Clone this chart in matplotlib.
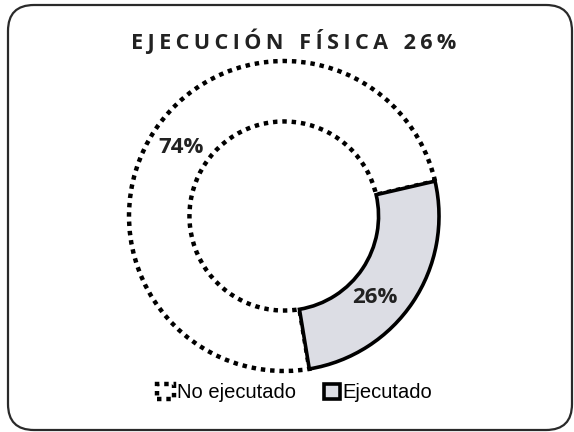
import matplotlib
matplotlib.use("Agg")
import numpy as np
import matplotlib.pyplot as plt
from matplotlib.patches import FancyBboxPatch

# data
labels = ["No ejecutado", "Ejecutado"]
values = [74, 26]
pct_labels = ["74%", "26%"]
title = "EJECUCIÓN FÍSICA 26%"

fig = plt.figure(figsize=(5.74, 4.32), dpi=100)
ax = fig.add_axes([0, 0, 1, 1])
ax.set_xlim(0, 574)
ax.set_ylim(0, 432)
ax.set_aspect("equal")
ax.axis("off")

# rounded frame
frame = FancyBboxPatch((8, 2), 564, 425, boxstyle="round,pad=0,rounding_size=26",
                       facecolor="white", edgecolor="#2a2a2a", linewidth=1.6, zorder=0)
ax.add_patch(frame)

cx, cy, r = 284, 216, 155
wedges, texts, autotexts = ax.pie(
    values, center=(cx, cy), radius=r, startangle=13,
    colors=["white", "#dcdde4"],
    wedgeprops=dict(width=r * 0.39),
    autopct=lambda p: "", pctdistance=0.8, frame=True)

# dotted edge on the open part, solid edge on the executed part
wedges[0].set_edgecolor("black")
wedges[0].set_linestyle((0, (1, 1.1)))
wedges[0].set_linewidth(3.2)
wedges[1].set_edgecolor("black")
wedges[1].set_linestyle("-")
wedges[1].set_linewidth(2.6)
wedges[1].set_zorder(3)

for at, txt in zip(autotexts, pct_labels):
    at.set_text(txt)
    at.set_fontfamily("Open Sans")
    at.set_fontweight("bold")
    at.set_fontsize(16)
    at.set_color("#222222")
    at.set_zorder(4)
# the 26% label sits a bit lower than the wedge middle in the original
ang = np.deg2rad(-42)
autotexts[1].set_position((cx + 0.79 * r * np.cos(ang), cy + 0.79 * r * np.sin(ang)))

ax.set_xlim(0, 574)
ax.set_ylim(0, 432)
ax.axis("off")

# spaced-out title
words = ["\u2009".join(w) for w in title.split(" ")]
ax.text(294, 391, "  \u2009".join(words),
        ha="center", va="center", fontsize=15.6, fontweight="bold",
        family="Open Sans", color="#222222")

ax.legend(wedges, labels, loc="center", bbox_to_anchor=(295 / 574, 39 / 432),
          ncol=2, frameon=False, handlelength=0.8, handleheight=0.8,
          handletextpad=0.15, columnspacing=1.4,
          prop={"family": "Liberation Sans", "size": 14.5})

fig.savefig("out.png", dpi=100)
